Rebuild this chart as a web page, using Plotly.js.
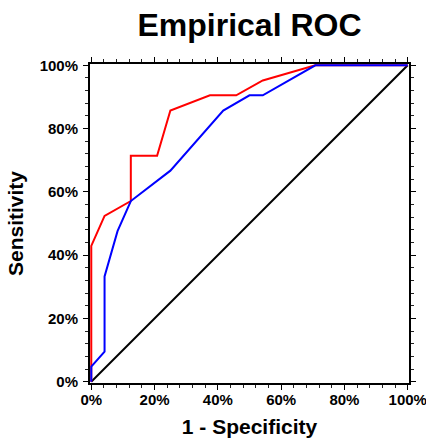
<!DOCTYPE html>
<html>
<head>
<meta charset="utf-8">
<script src="https://cdn.plot.ly/plotly-3.0.1.min.js"></script>
<style>html,body{margin:0;padding:0;background:#fff;}#chart{width:426px;height:442px;}</style>
</head>
<body>
<div id="chart"></div>
<script>
// Red ROC curve (1 - specificity, sensitivity)
var redFpr = [0, 0, 0.042, 0.125, 0.125, 0.208, 0.25, 0.375, 0.458, 0.542, 0.708, 1.0];
var redTpr = [0, 0.429, 0.524, 0.571, 0.714, 0.714, 0.857, 0.905, 0.905, 0.952, 1.0, 1.0];
// Blue ROC curve
var blueFpr = [0, 0, 0.042, 0.042, 0.083, 0.125, 0.25, 0.417, 0.5, 0.542, 0.708, 1.0];
var blueTpr = [0, 0.048, 0.095, 0.333, 0.476, 0.571, 0.667, 0.857, 0.905, 0.905, 1.0, 1.0];
// Chance diagonal
var diagX = [0, 1];
var diagY = [0, 1];
var tickVals = [0, 0.2, 0.4, 0.6, 0.8, 1.0];
var tickText = ['0%', '20%', '40%', '60%', '80%', '100%'];

var fontFam = 'Liberation Sans, Arial, Helvetica, sans-serif';
var traces = [
  {x: diagX, y: diagY, mode: 'lines', line: {color: '#000000', width: 2}, hoverinfo: 'none'},
  {x: redFpr, y: redTpr, mode: 'lines', line: {color: '#ff0000', width: 2}, hoverinfo: 'none'},
  {x: blueFpr, y: blueTpr, mode: 'lines', line: {color: '#0000ff', width: 2}, hoverinfo: 'none'}
];

function axis(titleText, standoff, labelStandoff) {
  return {
    range: [-0.004, 1.004],
    tickvals: tickVals,
    ticktext: tickText,
    ticks: 'outside',
    ticklen: 5,
    tickwidth: 1,
    tickcolor: '#000',
    minor: {dtick: 0.04, tick0: 0, ticks: 'outside', ticklen: 3, tickwidth: 1, tickcolor: '#222'},
    showline: true,
    linecolor: '#000',
    linewidth: 2,
    mirror: 'ticks',
    showgrid: false,
    zeroline: false,
    fixedrange: true,
    layer: 'below traces',
    ticklabelstandoff: labelStandoff,
    ticklabeloverflow: 'allow',
    tickfont: {family: fontFam, size: 15, color: '#000', weight: 'bold'},
    title: {text: titleText, standoff: standoff, font: {family: fontFam, size: 21, color: '#000', weight: 'bold'}}
  };
}

var layout = {
  width: 426,
  height: 442,
  margin: {l: 90, r: 17, t: 64, b: 59, pad: 0},
  paper_bgcolor: '#fff',
  plot_bgcolor: '#fff',
  showlegend: false,
  title: {text: 'Empirical ROC', x: 0.5, xref: 'paper', y: 0.945, yref: 'container', yanchor: 'middle',
          font: {family: fontFam, size: 32, color: '#000', weight: 'bold'}},
  xaxis: axis('1 - Specificity', 12, -3),
  yaxis: axis('Sensitivity', 10, 2)
};

Plotly.newPlot('chart', traces, layout, {displayModeBar: false, staticPlot: true});
</script>
</body>
</html>
